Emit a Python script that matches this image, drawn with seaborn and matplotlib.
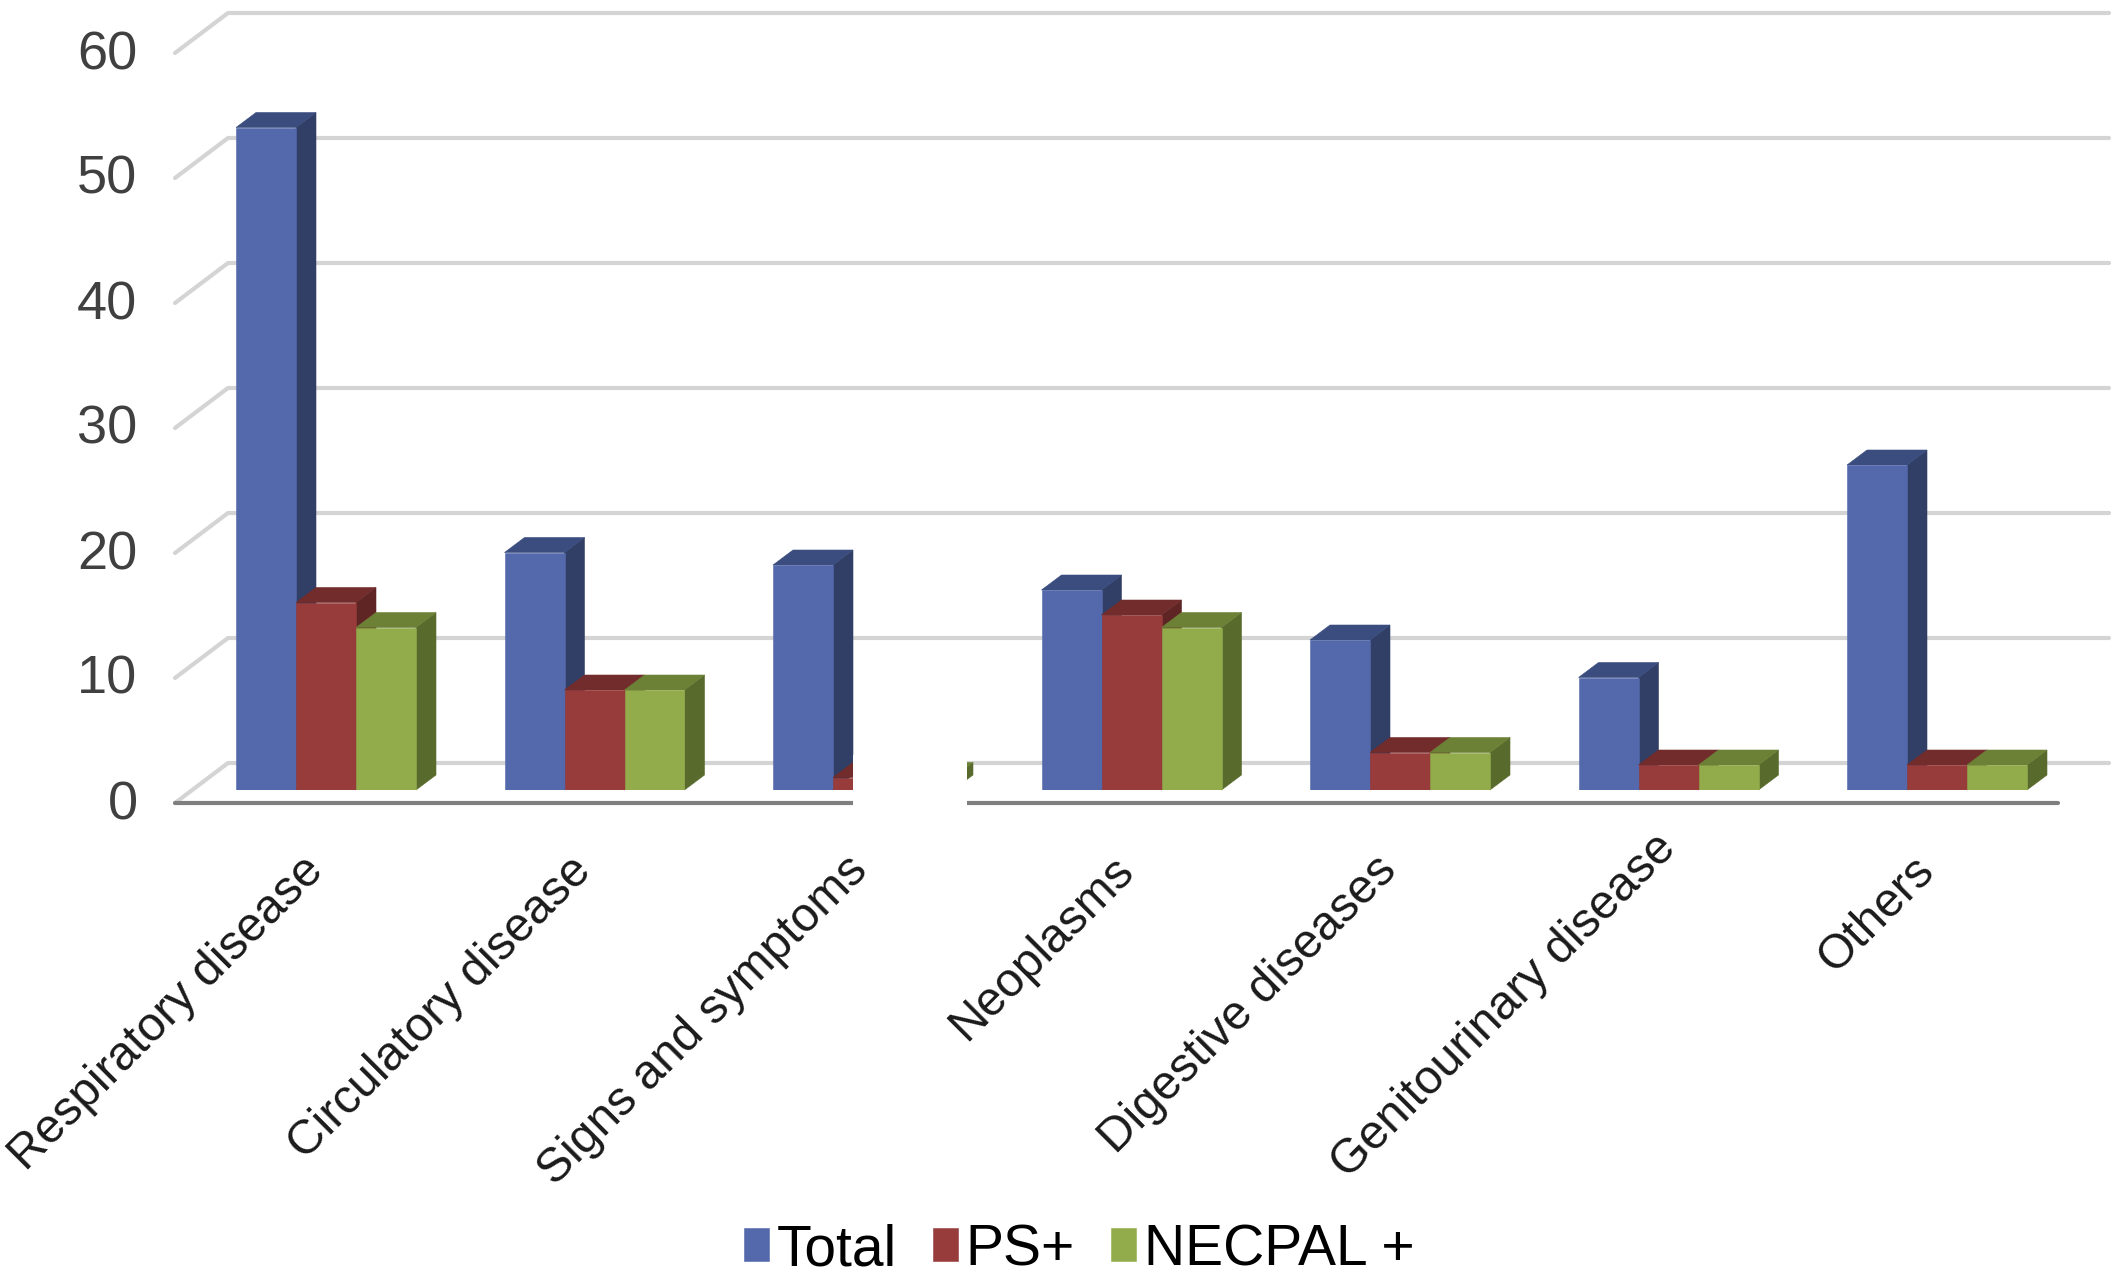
import matplotlib
matplotlib.use('Agg')
import matplotlib.pyplot as plt
import matplotlib.transforms as mtrans
from matplotlib.patches import Polygon, Rectangle
import pandas as pd
import seaborn as sns

categories = ["Respiratory disease", "Circulatory disease", "Signs and symptoms", "Neoplasms",
              "Digestive diseases", "Genitourinary disease", "Others"]
total = [53, 19, 18, 16, 12, 9, 26]
ps_plus = [15, 8, 1, 14, 3, 2, 2]
necpal_plus = [13, 8, 1, 13, 3, 2, 2]
series_names = ["Total", "PS+", "NECPAL +"]
y_ticks = [0, 10, 20, 30, 40, 50, 60]

front_colors = ["#5469AB", "#973C3B", "#92AC4C"]
side_colors = ["#313E66", "#5E2524", "#586A2C"]
top_colors = ["#3A4D7E", "#722C2B", "#6C8136"]

W, H = 2118, 1280
PX_PER_CAT = 268.5
PX_PER_UNIT = 12.5
X0_PX, Y0_PX = 326, 790   # where category 0 / value 0 land


def px_x(p):
    return (p - X0_PX) / PX_PER_CAT


def px_y(p):
    return (Y0_PX - p) / PX_PER_UNIT


df = pd.DataFrame({
    'category': categories * 3,
    'series': [s for s in series_names for _ in categories],
    'value': total + ps_plus + necpal_plus,
})

sns.set_style('white')
plt.rcParams['font.family'] = ['Liberation Sans', 'DejaVu Sans']

fig = plt.figure(figsize=(W / 100, H / 100), dpi=100)
ax = fig.add_axes([175 / W, (H - Y0_PX) / H, (W - 175) / W, Y0_PX / H])

sns.barplot(data=df, x='category', y='value', hue='series', hue_order=series_names,
            palette=front_colors, width=180 / PX_PER_CAT, gap=0, saturation=1,
            legend=False, ax=ax, linewidth=0, zorder=3)

ax.set_xlim(px_x(175), px_x(W))
ax.set_ylim(0, px_y(0))
sns.despine(ax=ax, left=True, bottom=True)

# fake 3D: side and top faces on every bar
depth_x = 20 / PX_PER_CAT
depth_y = 15 / PX_PER_UNIT
for i, container in enumerate(ax.containers):
    for bar in container:
        x0 = bar.get_x()
        x1 = x0 + bar.get_width()
        h = bar.get_height()
        bar.set_zorder(3.5 + i)
        bar.set_edgecolor(front_colors[i])
        bar.set_linewidth(0.4)
        ax.add_patch(Polygon([(x1, 0), (x1 + depth_x, depth_y), (x1 + depth_x, h + depth_y), (x1, h)],
                             closed=True, fc=side_colors[i], ec=side_colors[i], lw=0.4,
                             zorder=3 + i, clip_on=False))
        ax.add_patch(Polygon([(x0, h), (x0 + depth_x, h + depth_y), (x1 + depth_x, h + depth_y), (x1, h)],
                             closed=True, fc=top_colors[i], ec=top_colors[i], lw=0.4,
                             zorder=3 + i, clip_on=False))

# back wall gridlines and the slanted floor lines
wall_x = px_x(228)
front_x = px_x(175)
wall_dy = 27 / PX_PER_UNIT
front_dy = -13 / PX_PER_UNIT
for v in y_ticks:
    ax.plot([front_x, wall_x, px_x(2109)], [v + front_dy, v + wall_dy, v + wall_dy],
            color='#d4d4d4', lw=3, zorder=1, clip_on=False, solid_capstyle='round')
ax.plot([front_x, px_x(2058)], [front_dy, front_dy], color='#7f7f7f', lw=3, zorder=2, clip_on=False)

# white cut-out over the middle of the chart, as in the source picture
ax.add_patch(Rectangle((px_x(853), px_y(822)), (967 - 853) / PX_PER_CAT, (822 - 755) / PX_PER_UNIT,
                       fc='white', ec='none', zorder=8, clip_on=False))

ax.set_xlabel("")
ax.set_ylabel("")
ax.set_yticks(y_ticks)
ax.set_yticklabels([str(v) for v in y_ticks], fontsize=39, color='#404040')
ax.tick_params(axis='y', length=0, pad=27)
shift = mtrans.ScaledTranslation(0, -9.5 / 100, fig.dpi_scale_trans)
for lab in ax.get_yticklabels():
    lab.set_transform(lab.get_transform() + shift)

ax.tick_params(axis='x', length=0, pad=53)
ax.set_xticks(range(len(categories)))
ax.set_xticklabels(categories, fontsize=34.5, color='#1a1a1a', rotation=45, ha='right',
                   va='center', rotation_mode='anchor')
# small per-label nudges in pixels, the source labels are not evenly placed
nudge_x = [-10, -10, -2, -5, -10, 0, -9]
nudge_y = [0, 0, 0, 0, 0, 22, 0]
for lab, nx, ny in zip(ax.get_xticklabels(), nudge_x, nudge_y):
    lab.set_transform(lab.get_transform() + mtrans.ScaledTranslation(nx / 100, ny / 100, fig.dpi_scale_trans))

handles = [c.patches[0] for c in ax.containers]
ax.legend(handles, series_names, loc='center', bbox_to_anchor=(1079 / W, 1 - 1250 / H),
          bbox_transform=fig.transFigure, ncol=3, frameon=False, fontsize=41,
          handlelength=0.44, handleheight=0.52, handletextpad=0.13, columnspacing=0.64,
          labelcolor='black', borderpad=0)

fig.savefig('out.png', dpi=100, facecolor='white')
